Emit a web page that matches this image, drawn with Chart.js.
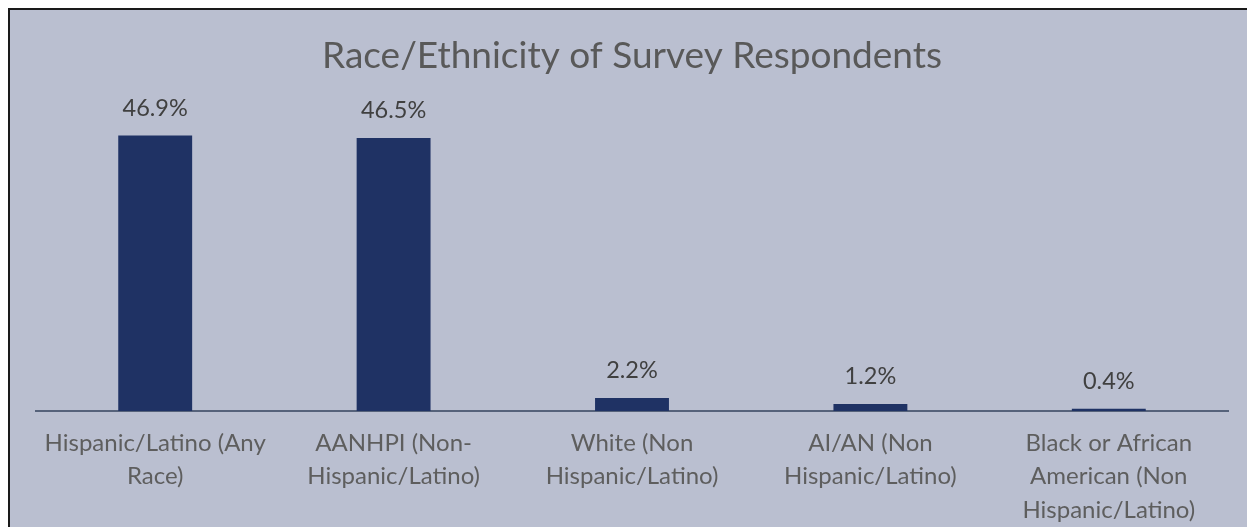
<!DOCTYPE html>
<html>
<head>
<meta charset="utf-8">
<script src="https://cdn.jsdelivr.net/npm/chart.js@4.4.1/dist/chart.umd.min.js"></script>
<style>
  html, body { margin: 0; padding: 0; background: #ffffff; width: 1247px; height: 527px; overflow: hidden; }
  #frame { position: absolute; left: 8px; top: 8px; right: 0; bottom: 0;
           border-top: 2px solid #1a1a1a; border-left: 2px solid #1a1a1a; background: #BABFD0; }
  #wrap { position: absolute; left: 0; top: 0; width: 1247px; height: 527px; }
</style>
</head>
<body>
<div id="frame"></div>
<div id="wrap"><canvas id="c" width="1247" height="527"></canvas></div>
<script>
const titleText = 'Race/Ethnicity of Survey Respondents';
const categories = [
  ['Hispanic/Latino (Any', 'Race)'],
  ['AANHPI (Non-', 'Hispanic/Latino)'],
  ['White (Non', 'Hispanic/Latino)'],
  ['AI/AN (Non', 'Hispanic/Latino)'],
  ['Black or African', 'American (Non', 'Hispanic/Latino)']
];
const percentValues = [46.9, 46.5, 2.2, 1.2, 0.4];
const valueLabels = ['46.9%', '46.5%', '2.2%', '1.2%', '0.4%'];

const FONT = 'Lato, "Open Sans", sans-serif';

const valueLabelPlugin = {
  id: 'valueLabels',
  afterDatasetsDraw(chart) {
    const ctx = chart.ctx;
    const meta = chart.getDatasetMeta(0);
    ctx.save();
    ctx.font = '23.5px ' + FONT;
    ctx.fillStyle = '#404040';
    ctx.textAlign = 'center';
    ctx.textBaseline = 'alphabetic';
    meta.data.forEach((bar, i) => {
      ctx.fillText(valueLabels[i], bar.x, bar.y - 20);
    });
    ctx.restore();
  }
};

new Chart(document.getElementById('c'), {
  type: 'bar',
  data: {
    labels: categories,
    datasets: [{
      data: percentValues,
      backgroundColor: '#1F3264',
      borderWidth: 0,
      barPercentage: 0.31,
      categoryPercentage: 1.0
    }]
  },
  options: {
    responsive: false,
    animation: false,
    devicePixelRatio: 1,
    layout: { padding: { left: 36, right: 19, top: 0, bottom: 0 } },
    plugins: {
      legend: { display: false },
      tooltip: { enabled: false },
      title: {
        display: true,
        text: titleText,
        color: '#595959',
        font: { family: FONT, size: 37, weight: 'normal', lineHeight: 1.2 },
        padding: { top: 34, bottom: 39 }
      }
    },
    scales: {
      x: {
        grid: { display: false, drawTicks: false },
        border: { display: true, color: '#56627A', width: 2 },
        ticks: {
          color: '#5E5E5E',
          font: { family: FONT, size: 24, lineHeight: 1.4 },
          padding: 15,
          maxRotation: 0,
          autoSkip: false
        },
        afterFit(scale) { scale.height = 116; }
      },
      y: {
        display: false,
        min: 0,
        max: 50
      }
    }
  },
  plugins: [valueLabelPlugin]
});
</script>
</body>
</html>
